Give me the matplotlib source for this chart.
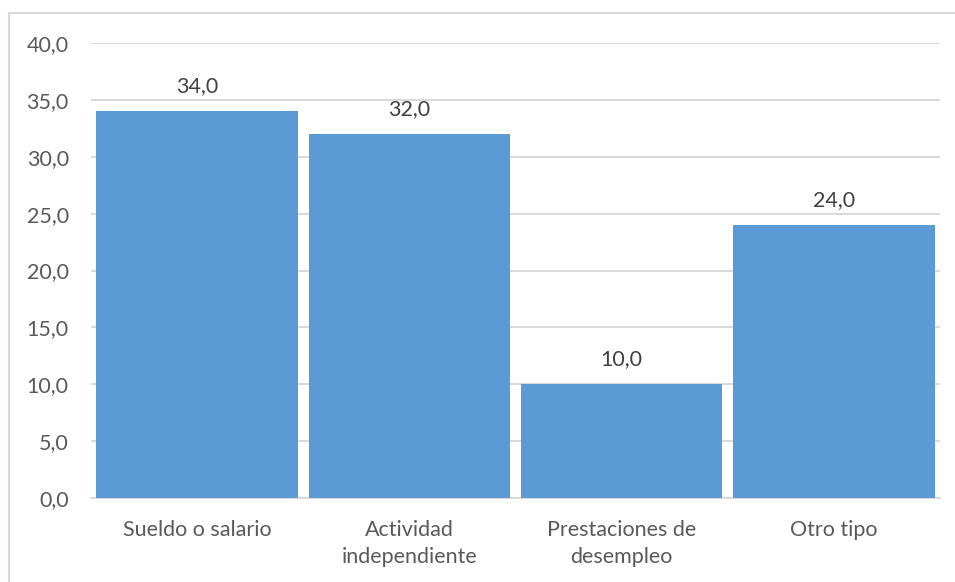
import matplotlib.pyplot as plt
from matplotlib.lines import Line2D

categorias = ['Sueldo o salario', 'Actividad\nindependiente',
              'Prestaciones de\ndesempleo', 'Otro tipo']
valores = [34.0, 32.0, 10.0, 24.0]
ticks_y = [0, 5, 10, 15, 20, 25, 30, 35, 40]

plt.rcParams['font.family'] = ['Lato', 'DejaVu Sans']
gris_texto = '#595959'
tam = 15.5

fig = plt.figure(figsize=(9.55, 5.82), dpi=100)
ax = fig.add_axes([91 / 955, 1 - 498 / 582, (940 - 91) / 955, (498 - 43) / 582])

x = list(range(len(categorias)))
barras = ax.bar(x, valores, width=0.95, color='#5B9BD5', zorder=3)
for b, v in zip(barras, valores):
    ax.annotate(('%.1f' % v).replace('.', ','), (b.get_x() + b.get_width() / 2, v),
                xytext=(0, 11), textcoords='offset points', ha='center', va='bottom',
                fontsize=tam, color='#404040')

ax.set_xlim(-0.5, len(categorias) - 0.5)
ax.set_ylim(0, 40)
ax.set_yticks(ticks_y)
ax.set_yticklabels([('%.1f' % t).replace('.', ',') for t in ticks_y])
ax.set_xticks(x)
ax.set_xticklabels(categorias, linespacing=1.45)
ax.tick_params(axis='both', length=0, labelsize=tam, labelcolor=gris_texto)
ax.tick_params(axis='y', pad=16)
ax.tick_params(axis='x', pad=15.5)
ax.grid(axis='y', color='#D9D9D9', linewidth=1.4, zorder=0)
for s in ['top', 'right', 'left']:
    ax.spines[s].set_visible(False)
ax.spines['bottom'].set_color('#D9D9D9')
ax.spines['bottom'].set_linewidth(1.4)

# marco del grafico
fig.add_artist(Line2D([9 / 955, 9 / 955], [0, 1 - 13 / 582], color='#D9D9D9', lw=1.5))
fig.add_artist(Line2D([9 / 955, 1], [1 - 13 / 582, 1 - 13 / 582], color='#D9D9D9', lw=1.5))

fig.savefig('out.png', dpi=100)
